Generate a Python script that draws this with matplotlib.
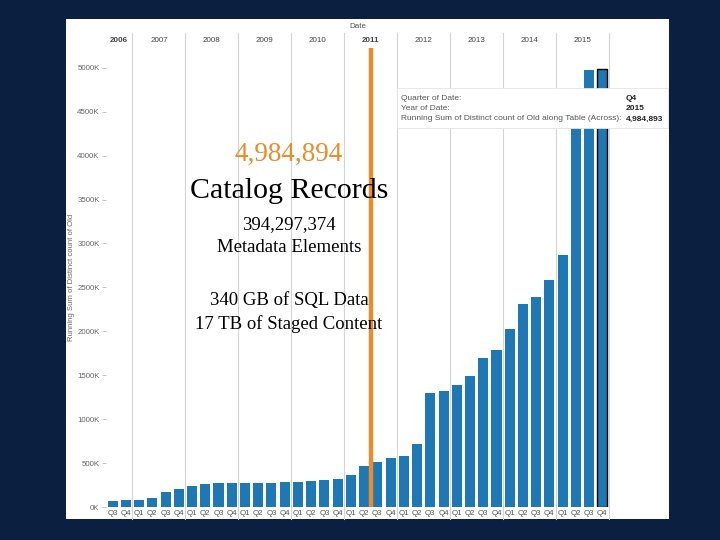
import matplotlib.pyplot as plt
from matplotlib.patches import Rectangle

plt.rcParams['font.family'] = ['Liberation Sans', 'DejaVu Sans']

# data (running sum, in K)
years = ['2006', '2007', '2008', '2009', '2010', '2011', '2012', '2013', '2014', '2015']
quarters = ['Q3', 'Q4'] + ['Q1', 'Q2', 'Q3', 'Q4'] * 9
values_k = [72, 84,
            84, 106, 167, 209,
            243, 266, 277, 277,
            277, 277, 277, 289,
            289, 300, 311, 323,
            368, 465, 512, 558,
            577, 714, 1298, 1318,
            1386, 1488, 1697, 1785,
            2024, 2312, 2388, 2582,
            2867, 4700, 4970, 4984.893]
yticks_k = [0, 500, 1000, 1500, 2000, 2500, 3000, 3500, 4000, 4500, 5000]

W, H = 720, 540
NAVY = '#0b1f40'
BLUE = '#1f77b4'
ORANGE = '#e88c2e'


def fx(x):
    return x / W


def fy(y):
    return 1 - y / H


fig = plt.figure(figsize=(7.2, 5.4), dpi=100, facecolor=NAVY)

# white panel
fig.add_artist(Rectangle((fx(66), fy(519)), (669 - 66) / W, (519 - 19) / H,
                         transform=fig.transFigure, facecolor='white',
                         edgecolor='none', zorder=-1))

ax = fig.add_axes([fx(106), fy(507), (609 - 106) / W, (507 - 48) / H])
ax.set_facecolor('none')

x = list(range(len(values_k)))
bars = ax.bar(x, [v * 1000 for v in values_k], width=0.76, color=BLUE, zorder=2)
bars[-1].set_edgecolor('black')
bars[-1].set_linewidth(1.0)

ax.set_xlim(-0.5, len(values_k) - 0.5)
ax.set_ylim(0, 5.225e6)

for s in ax.spines.values():
    s.set_visible(False)

ax.set_yticks([v * 1000 for v in yticks_k])
ax.set_yticklabels([f'{v}K' for v in yticks_k])
ax.tick_params(axis='y', length=3, width=0.6, color='#bbbbbb', pad=1.5,
               labelsize=5.7, labelcolor='#666666')
ax.set_xticks(x)
ax.set_xticklabels(quarters)
ax.tick_params(axis='x', length=0, pad=2.5, labelsize=5.7, labelcolor='#555555')

ax.set_ylabel('Running Sum of Distinct count of Old', fontsize=5.6, color='#666666')
ax.yaxis.set_label_coords(-0.062, 0.5)

# year separators and headers
bounds = [-0.5, 1.5] + [1.5 + 4 * k for k in range(1, 10)]
for b in bounds[1:]:
    ax.axvline(b, ymin=-0.027, ymax=1.033, color='#d4d4d4', lw=0.8,
               clip_on=False, zorder=1)
for i, yr in enumerate(years):
    cx = (bounds[i] + bounds[i + 1]) / 2
    ax.text(cx, 1.0 + 8 / 459, yr, transform=ax.get_xaxis_transform(),
            ha='center', va='center', fontsize=5.8, color='#444444',
            fontweight='bold' if yr in ('2006', '2011') else 'normal')
ax.text(0.5, 1.0 + 21 / 459, 'Date', transform=ax.transAxes, ha='center',
        va='center', fontsize=5.8, color='#555555')

# highlighted line
ax.axvline(19.5, color=ORANGE, lw=3.2, zorder=3)

# tooltip
fig.add_artist(Rectangle((fx(397), fy(128)), (668 - 397) / W, 40 / H,
                         transform=fig.transFigure, facecolor='white',
                         edgecolor='#e4e4e4', lw=0.6, zorder=5))
tip_labels = ['Quarter of Date:', 'Year of Date:',
              'Running Sum of Distinct count of Old along Table (Across):']
tip_values = ['Q4', '2015', '4,984,893']
for yy, lab, val in zip([98, 109, 119], tip_labels, tip_values):
    fig.text(fx(401), fy(yy), lab, ha='left', va='center', fontsize=6.0,
             color='#555555', zorder=6)
    fig.text(fx(626), fy(yy), val, ha='left', va='center', fontsize=6.0,
             color='#222222', fontweight='bold', zorder=6)

# overlay annotation
serif = ['Liberation Serif', 'DejaVu Serif']
fig.text(fx(289), fy(161), '4,984,894', ha='center', va='baseline',
         fontsize=19.5, color=ORANGE, family=serif, zorder=7)
fig.text(fx(289), fy(198), 'Catalog Records', ha='center', va='baseline',
         fontsize=21.5, color='black', family=serif, zorder=7)
for yy, txt in [(229, '394,297,374'), (252, 'Metadata Elements'),
                (305, '340 GB of SQL Data'), (329, '17 TB of Staged Content')]:
    fig.text(fx(289), fy(yy), txt, ha='center', va='baseline',
             fontsize=13.5, color='black', family=serif, zorder=7)

fig.savefig('out.png', dpi=100, facecolor=NAVY)
